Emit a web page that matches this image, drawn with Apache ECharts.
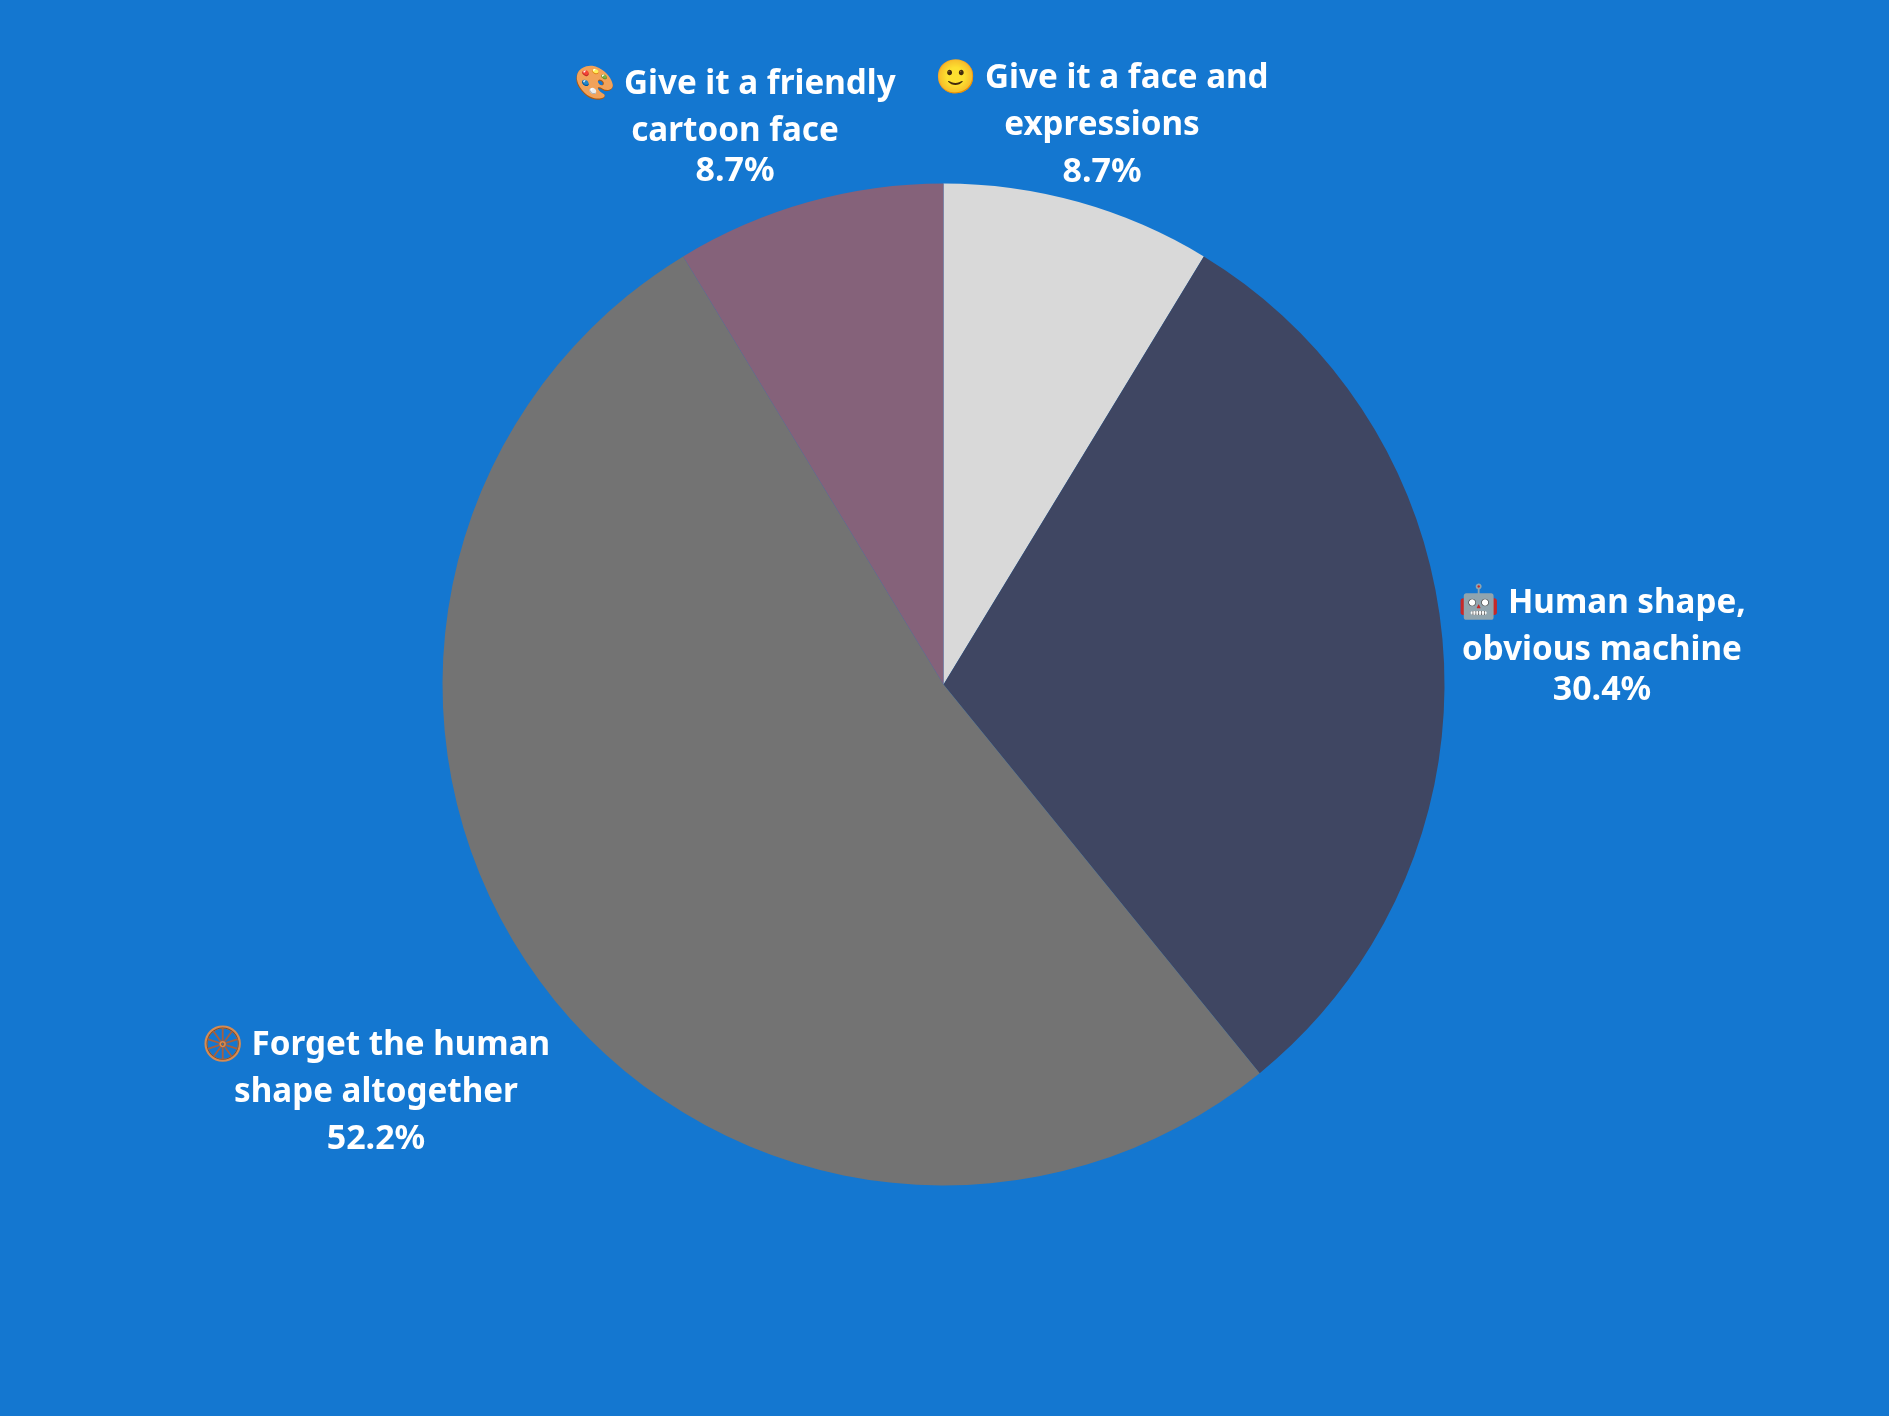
<!DOCTYPE html>
<html><head><meta charset="utf-8">
<style>html,body{margin:0;padding:0;background:#1477d0}#c{width:1889px;height:1416px}</style>
<script src="https://cdn.jsdelivr.net/npm/echarts@6/dist/echarts.min.js"></script>
</head><body><div id="c"></div>
<script>
const categories = ['🙂 Give it a face and\nexpressions', '🤖 Human shape,\nobvious machine', '🛞 Forget the human\nshape altogether', '🎨 Give it a friendly\ncartoon face'];
const values = [2, 7, 12, 2];
const colors = ['#D9D9D9', '#3F4662', '#737373', '#85627A'];
const labelCentres = [[1102, 125.4], [1602, 643.4], [376, 1092.4], [735, 124.4]];
const percentStyles = ['wide', 'tight', 'wide', 'tight'];
const font = '"Noto Sans", sans-serif';
const chart = echarts.init(document.getElementById('c'));
chart.setOption({
  backgroundColor: '#1477D0',
  animation: false,
  series: [{
    type: 'pie',
    center: [943.5, 684.5],
    radius: [0, 501],
    startAngle: 90,
    clockwise: true,
    percentPrecision: 1,
    avoidLabelOverlap: false,
    data: categories.map((name, i) => ({ name, value: values[i], itemStyle: { color: colors[i] } })),
    labelLine: { show: false },
    label: {
      show: true,
      position: 'outside',
      formatter: p => p.name.split('\n').map(s => '{a|' + s + '}').join('\n') + '\n{' + percentStyles[p.dataIndex] + '|' + p.percent.toFixed(1) + '%}',
      align: 'center',
      rich: {
        a: { fontFamily: font, fontWeight: 700, fontSize: 33.2, lineHeight: 47, color: '#fff', align: 'center' },
        wide: { fontFamily: font, fontWeight: 700, fontSize: 34, lineHeight: 47, color: '#fff', align: 'center' },
        tight: { fontFamily: font, fontWeight: 700, fontSize: 34, lineHeight: 33, color: '#fff', align: 'center' }
      }
    },
    labelLayout: p => ({ x: labelCentres[p.dataIndex][0], y: labelCentres[p.dataIndex][1], align: 'center', verticalAlign: 'middle' })
  }]
});
</script></body></html>
